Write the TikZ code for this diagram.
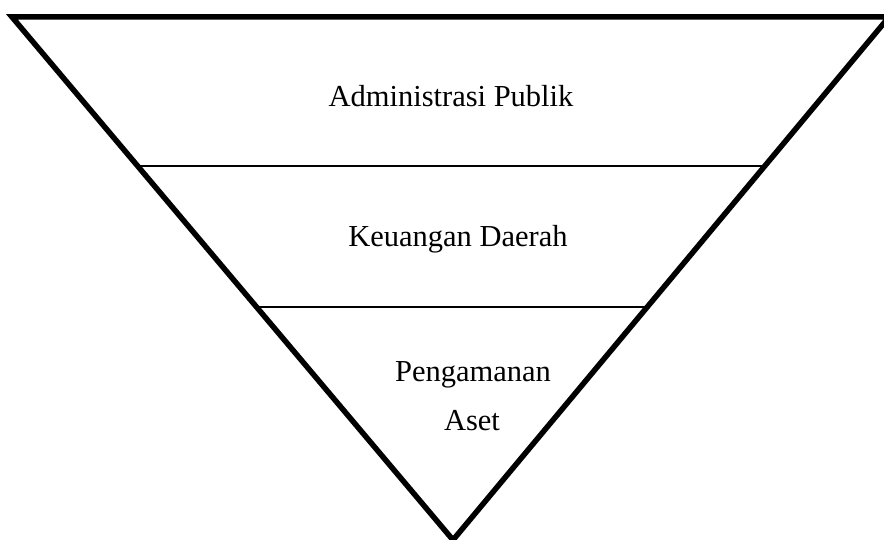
\documentclass[tikz,border=0pt]{standalone}
\usepackage{fontspec}
\setmainfont{Liberation Serif}
\usetikzlibrary{calc}
\begin{document}
\begin{tikzpicture}[x=1pt,y=-1pt,
  outline/.style={line width=5.5pt,line join=miter},
  divider/.style={line width=1.5pt},
  label/.style={anchor=base,inner sep=0pt,font=\fontsize{30.5}{36}\selectfont}]
\useasboundingbox (0,0) rectangle (884,540);
% corners of the inverted triangle
\coordinate (tl) at (12,17);
\coordinate (tr) at (889,17);
\coordinate (apex) at (453,540);
% ends of the two dividing lines on the slanted sides
\coordinate (l1) at ($(tl)!0.2849!(apex)$);
\coordinate (r1) at ($(tr)!0.2849!(apex)$);
\coordinate (l2) at ($(tl)!0.5545!(apex)$);
\coordinate (r2) at ($(tr)!0.5545!(apex)$);
\draw[divider] (l1) -- (r1);
\draw[divider] (l2) -- (r2);
\draw[outline] (tl) -- (tr) -- (apex) -- cycle;
% level labels
\node[label] (admin) at (451,107) {Administrasi Publik};
\node[label] (keu) at (458,247) {Keuangan Daerah};
\node[label] (peng) at (473,381) {Pengamanan};
\node[label] (aset) at (472,430) {Aset};
\end{tikzpicture}
\end{document}
